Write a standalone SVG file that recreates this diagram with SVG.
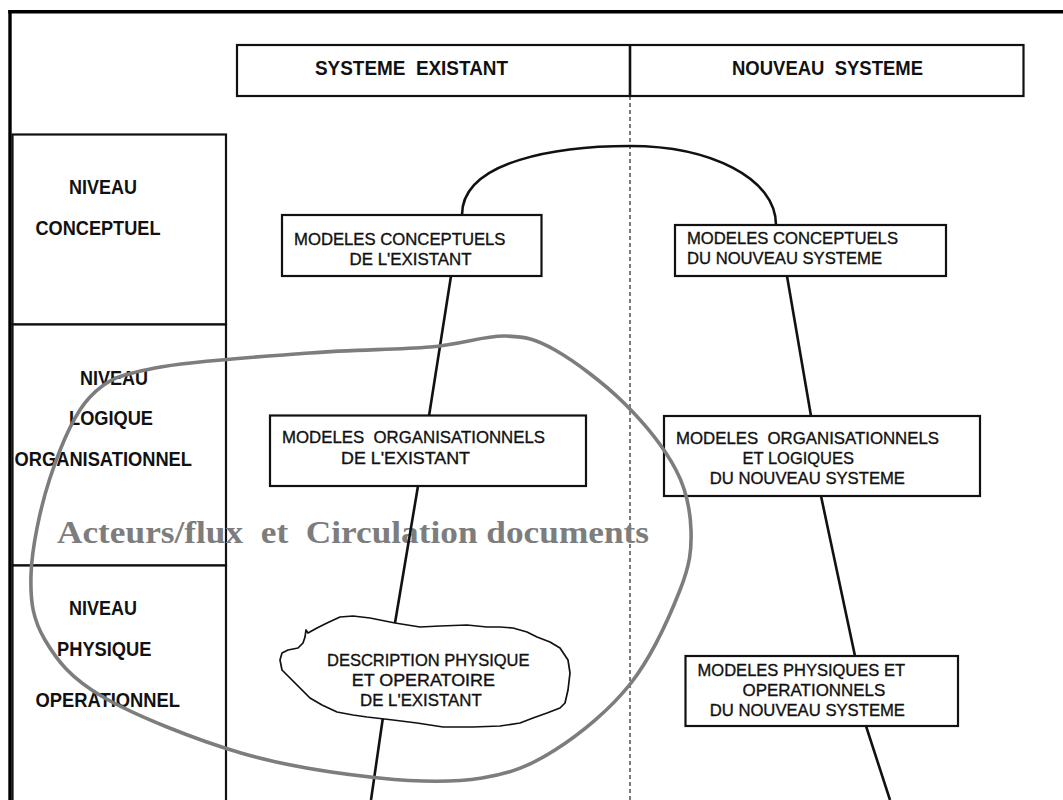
<svg xmlns="http://www.w3.org/2000/svg" width="1063" height="800" viewBox="0 0 1063 800">
  <style>
    .hdr { font-family: "Liberation Sans", Arial, sans-serif; font-weight: bold; font-size: 21px; fill: #111; white-space: pre; }
    .lvl { font-family: "Liberation Sans", Arial, sans-serif; font-weight: bold; font-size: 21px; fill: #111; }
    .lbl { font-family: "Liberation Sans", Arial, sans-serif; font-size: 17px; fill: #111; stroke: #111; stroke-width: 0.35; white-space: pre; }
    .box { fill: #fff; stroke: #111; stroke-width: 2.2; }
    .frame { fill: none; stroke: #000; }
    .link { fill: none; stroke: #111; stroke-width: 2.6; }
    .note { font-family: "Liberation Serif", "Times New Roman", serif; font-weight: bold; font-size: 31px; fill: #7d7d7d; white-space: pre; }
  </style>

  <rect width="1063" height="800" fill="#fff"/>

  <!-- outer frame: top and left edges -->
  <g id="frame">
    <line class="frame" x1="8.3" y1="11.7" x2="1063" y2="11.7" stroke-width="3.4"/>
    <line class="frame" x1="10" y1="10" x2="10" y2="800" stroke-width="3.4"/>
  </g>

  <!-- column headers -->
  <g id="header">
    <rect class="box" x="237" y="45" width="786.5" height="51" stroke-width="2.4"/>
    <line x1="630" y1="45" x2="630" y2="96" stroke="#111" stroke-width="2.6"/>
    <text class="hdr" x="315" y="75" textLength="193" lengthAdjust="spacingAndGlyphs">SYSTEME  EXISTANT</text>
    <text class="hdr" x="732" y="75" textLength="191" lengthAdjust="spacingAndGlyphs">NOUVEAU  SYSTEME</text>
  </g>

  <!-- column separator -->
  <line id="separator" x1="630" y1="96" x2="630" y2="800" stroke="#111" stroke-width="1.1" stroke-dasharray="4,3"/>

  <!-- level rows -->
  <g id="level-conceptuel">
    <rect class="box" x="12.5" y="134.5" width="213.5" height="190" stroke-width="2"/>
    <text class="lvl" x="69" y="194" textLength="68" lengthAdjust="spacingAndGlyphs">NIVEAU</text>
    <text class="lvl" x="35.5" y="235" textLength="125" lengthAdjust="spacingAndGlyphs">CONCEPTUEL</text>
  </g>
  <g id="level-logique">
    <rect class="box" x="12.5" y="324.5" width="213.5" height="241" stroke-width="2"/>
    <text class="lvl" x="80" y="385" textLength="68" lengthAdjust="spacingAndGlyphs">NIVEAU</text>
    <text class="lvl" x="69" y="425" textLength="84" lengthAdjust="spacingAndGlyphs">LOGIQUE</text>
    <text class="lvl" x="14.5" y="465.5" textLength="177.5" lengthAdjust="spacingAndGlyphs">ORGANISATIONNEL</text>
  </g>
  <g id="level-physique">
    <rect class="box" x="12.5" y="565.5" width="213.5" height="240" stroke-width="2"/>
    <text class="lvl" x="69" y="615" textLength="68" lengthAdjust="spacingAndGlyphs">NIVEAU</text>
    <text class="lvl" x="57" y="656" textLength="94.5" lengthAdjust="spacingAndGlyphs">PHYSIQUE</text>
    <text class="lvl" x="35.5" y="706.5" textLength="144.5" lengthAdjust="spacingAndGlyphs">OPERATIONNEL</text>
  </g>

  <!-- annotation text -->
  <text id="annotation" class="note" x="57" y="543" textLength="592" lengthAdjust="spacingAndGlyphs">Acteurs/flux  et  Circulation documents</text>

  <!-- connectors -->
  <g id="connectors">
    <path class="link" d="M462,215 C462,160 560,146 630,146 C710,146 776,178 776,225"/>
    <line class="link" x1="451" y1="276" x2="429" y2="416"/>
    <line class="link" x1="418" y1="486" x2="395" y2="623"/>
    <line class="link" x1="383" y1="717" x2="371" y2="800"/>
    <line class="link" x1="787" y1="276" x2="811" y2="416"/>
    <line class="link" x1="821" y1="496" x2="855" y2="656"/>
    <line class="link" x1="866" y1="726" x2="890" y2="800"/>
  </g>

  <!-- existing system -->
  <g id="mc-existant">
    <rect class="box" x="282" y="215" width="259.5" height="61"/>
    <text class="lbl" x="294" y="245" textLength="211.5" lengthAdjust="spacingAndGlyphs">MODELES CONCEPTUELS</text>
    <text class="lbl" x="349.5" y="265" textLength="122" lengthAdjust="spacingAndGlyphs">DE L'EXISTANT</text>
  </g>
  <g id="mo-existant">
    <rect class="box" x="270" y="415.5" width="316" height="70.5"/>
    <text class="lbl" x="282" y="443.3" textLength="263" lengthAdjust="spacingAndGlyphs">MODELES  ORGANISATIONNELS</text>
    <text class="lbl" x="341" y="464.3" textLength="129" lengthAdjust="spacingAndGlyphs">DE L'EXISTANT</text>
  </g>
  <g id="description-existant">
    <path fill="#fff" stroke="#111" stroke-width="1.7" stroke-linejoin="round"
      d="M395,623 L370,618 L353,616 L340,617 L327,623 L317,628 L308,633 L306,630 L305,637 L303,643 L298,648 L288,650 L282,653 L280,660 L282,670 L290,678 L300,688 L310,698 L322,705 L337,712 L353,715 L367,717 L393,720 L417,723 L443,727 L473,727 L500,726 L520,723 L533,718 L547,713 L560,708 L565,703 L568,690 L570,673 L568,660 L560,648 L550,642 L537,637 L527,632 L513,628 L500,627 L487,627 L467,625 L440,626 L420,627 Z"/>
    <text class="lbl" x="327" y="666" textLength="202.5" lengthAdjust="spacingAndGlyphs">DESCRIPTION PHYSIQUE</text>
    <text class="lbl" x="351.7" y="686" textLength="143.3" lengthAdjust="spacingAndGlyphs">ET OPERATOIRE</text>
    <text class="lbl" x="360" y="705.7" textLength="121.7" lengthAdjust="spacingAndGlyphs">DE L'EXISTANT</text>
  </g>

  <!-- new system -->
  <g id="mc-nouveau">
    <rect class="box" x="675" y="225" width="271" height="51"/>
    <text class="lbl" x="687" y="244.3" textLength="211" lengthAdjust="spacingAndGlyphs">MODELES CONCEPTUELS</text>
    <text class="lbl" x="687" y="264" textLength="195" lengthAdjust="spacingAndGlyphs">DU NOUVEAU SYSTEME</text>
  </g>
  <g id="mol-nouveau">
    <rect class="box" x="664" y="416" width="316" height="80"/>
    <text class="lbl" x="676" y="444.3" textLength="263" lengthAdjust="spacingAndGlyphs">MODELES  ORGANISATIONNELS</text>
    <text class="lbl" x="742.6" y="464.3" textLength="111.4" lengthAdjust="spacingAndGlyphs">ET LOGIQUES</text>
    <text class="lbl" x="709.7" y="484.3" textLength="195.3" lengthAdjust="spacingAndGlyphs">DU NOUVEAU SYSTEME</text>
  </g>
  <g id="mp-nouveau">
    <rect class="box" x="685.5" y="656" width="272.5" height="70"/>
    <text class="lbl" x="697.6" y="676" textLength="207.4" lengthAdjust="spacingAndGlyphs">MODELES PHYSIQUES ET</text>
    <text class="lbl" x="742.6" y="695.7" textLength="142.7" lengthAdjust="spacingAndGlyphs">OPERATIONNELS</text>
    <text class="lbl" x="709.7" y="715.7" textLength="195.3" lengthAdjust="spacingAndGlyphs">DU NOUVEAU SYSTEME</text>
  </g>

  <!-- grey loop around actors / flows scope -->
  <path id="scope" fill="none" stroke="#7d7d7d" stroke-width="3.6" stroke-linecap="round"
    d="M31,575 C31.8,548 40.2,507.7 50,478 C59.8,448.3 72.5,415.3 90,397 C107.5,378.7 118.3,375.3 155,368 C191.7,360.7 264.2,356.5 310,353 C355.8,349.5 397.5,349.8 430,347 C462.5,344.2 484.2,335.5 505,336 C525.8,336.5 535.2,338.8 555,350 C574.8,361.2 603.8,383 624,403 C644.2,423 664.8,448.8 676,470 C687.2,491.2 690.3,510 691,530 C691.7,550 690,564.5 680,590 C670,615.5 651.8,656.3 631,683 C610.2,709.7 579.8,734.2 555,750 C530.2,765.8 511.3,773.3 482,778 C452.7,782.7 419.2,782.2 379,778 C338.8,773.8 287,766.5 241,753 C195,739.5 135.7,715.8 103,697 C70.3,678.2 57,660.3 45,640 C33,619.7 30.2,602 31,575 Z"/>
</svg>
